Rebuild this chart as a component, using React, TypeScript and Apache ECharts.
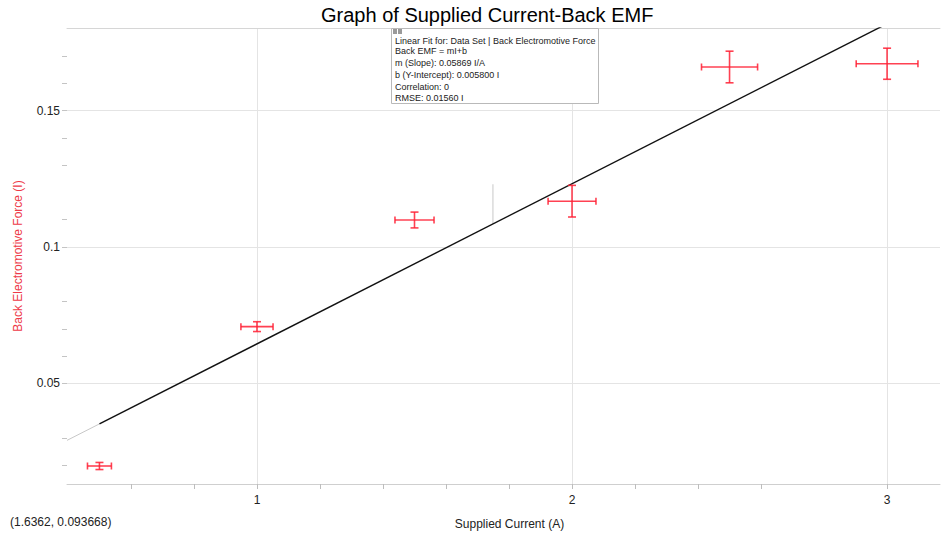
import React, { useEffect, useRef } from "react";
import * as echarts from "echarts";

// ---- data ----
const xValues = [0.5, 1.0, 1.5, 2.0, 2.5, 3.0];
const yValues = [0.0197, 0.0708, 0.1099, 0.1168, 0.166, 0.1672];
const xErrors = [0.038, 0.051, 0.062, 0.076, 0.089, 0.098];
const yErrors = [0.0013, 0.0018, 0.0029, 0.0058, 0.0058, 0.0057];

const fitSlope = 0.05869;
const fitIntercept = 0.0058;
const fitStart = 0.5;
const connectorX = 1.749;
const connectorTop = 0.123;

const xMin = 0.397;
const xMax = 3.168;
const yMin = 0.0131;
const yMax = 0.1803;

const xTickValues = [0.6, 0.8, 1.0, 1.2, 1.4, 1.6, 1.8, 2.0, 2.2, 2.4, 2.6, 3.0];
const xLabelValues = [1, 2, 3];
const yTickValues = [0.02, 0.03, 0.05, 0.06, 0.07, 0.08, 0.1, 0.11, 0.13, 0.14, 0.15, 0.16, 0.17];
const yLabelValues = [0.05, 0.1, 0.15];

const annotationLines = [
  "Linear Fit for: Data Set | Back Electromotive Force",
  "Back EMF = mI+b",
  "m (Slope): 0.05869 I/A",
  "b (Y-Intercept): 0.005800 I",
  "Correlation: 0",
  "RMSE: 0.01560 I",
];
const annotationY = [41, 51, 63, 75, 87, 98];
const cursorText = "(1.6362, 0.093668)";

const fit = (x: number) => fitSlope * x + fitIntercept;

export default function App() {
  const ref = useRef<HTMLDivElement>(null);

  useEffect(() => {
    document.body.style.margin = "0";
    if (!ref.current) return;
    const chart = echarts.init(ref.current, undefined, { renderer: "svg" });
    const red = "rgba(255,32,52,0.85)";
    const font = "'Liberation Sans', Arial, sans-serif";

    const errData = xValues.map((x, i) => [x, yValues[i], xErrors[i], yErrors[i]]);

    const gridMarks = [
      ...xLabelValues.map((v) => ({ xAxis: v })),
      ...yLabelValues.map((v) => ({ yAxis: v })),
    ];

    chart.setOption({
      animation: false,
      textStyle: { fontFamily: font },
      title: {
        text: "Graph of Supplied Current-Back EMF",
        left: 321,
        top: 5,
        padding: 0,
        textStyle: { fontSize: 20, fontWeight: "normal", color: "#000", fontFamily: font },
      },
      grid: { left: 67, right: 3, top: 28, bottom: 49, containLabel: false },
      xAxis: [
        {
          type: "value",
          min: xMin,
          max: xMax,
          name: "Supplied Current (A)",
          nameLocation: "middle",
          nameGap: 34,
          nameTextStyle: { fontSize: 12, color: "#222", padding: [0, 0, 0, 12] },
          axisLine: { show: true, lineStyle: { color: "#cfcfcf", width: 1 } },
          axisTick: { show: true, length: 5, lineStyle: { color: "#bdbdbd" }, customValues: xTickValues },
          axisLabel: { fontSize: 12, color: "#222", margin: 10, customValues: xLabelValues },
          splitLine: { show: false },
        },
        {
          type: "value",
          position: "top",
          min: xMin,
          max: xMax,
          axisLine: { show: true, lineStyle: { color: "#d6d6d6", width: 1 } },
          axisTick: { show: false },
          axisLabel: { show: false },
          splitLine: { show: false },
        },
      ],
      yAxis: {
        type: "value",
        min: yMin,
        max: yMax,
        name: "Back Electromotive Force (I)",
        nameLocation: "middle",
        nameGap: 43,
        nameTextStyle: { fontSize: 12, color: "#ee3a48" },
        axisLine: { show: false },
        axisTick: { show: true, length: 5, lineStyle: { color: "#c4c4c4" }, customValues: yTickValues },
        axisLabel: { fontSize: 12, color: "#222", margin: 7, customValues: yLabelValues },
        splitLine: { show: false },
      },
      series: [
        {
          type: "line",
          z: 1,
          showSymbol: false,
          silent: true,
          data: [
            [xMin, fit(xMin)],
            [fitStart, fit(fitStart)],
          ],
          lineStyle: { color: "#c8c8c8", width: 1 },
          markLine: {
            z: 0,
            silent: true,
            symbol: "none",
            label: { show: false },
            lineStyle: { color: "#e4e4e4", width: 1, type: "solid" },
            data: gridMarks,
          },
        },
        {
          type: "line",
          z: 6,
          showSymbol: false,
          silent: true,
          data: [
            [connectorX, fit(connectorX)],
            [connectorX, connectorTop],
          ],
          lineStyle: { color: "#c8c8c8", width: 1 },
        },
        {
          type: "line",
          z: 7,
          showSymbol: false,
          silent: true,
          clip: true,
          data: [
            [fitStart, fit(fitStart)],
            [xMax, fit(xMax)],
          ],
          lineStyle: { color: "#111", width: 1.4 },
        },
        {
          type: "custom",
          z: 8,
          silent: true,
          data: errData,
          encode: { x: 0, y: 1 },
          renderItem: (params: any, api: any) => {
            const x = api.value(0);
            const y = api.value(1);
            const ex = api.value(2);
            const ey = api.value(3);
            const l = api.coord([x - ex, y]);
            const r = api.coord([x + ex, y]);
            const t = api.coord([x, y + ey]);
            const b = api.coord([x, y - ey]);
            const style = { stroke: red, lineWidth: 1.6 };
            const cap = 3.5;
            const mk = (x1: number, y1: number, x2: number, y2: number) => ({
              type: "line",
              shape: { x1, y1, x2, y2 },
              style,
            });
            return {
              type: "group",
              children: [
                mk(l[0], l[1], r[0], r[1]),
                mk(t[0], t[1], b[0], b[1]),
                mk(l[0], l[1] - cap, l[0], l[1] + cap),
                mk(r[0], r[1] - cap, r[0], r[1] + cap),
                mk(t[0] - 4, t[1], t[0] + 4, t[1]),
                mk(b[0] - 4, b[1], b[0] + 4, b[1]),
              ],
            };
          },
        },
      ],
      graphic: [
        {
          type: "rect",
          z: 100,
          shape: { x: 391.5, y: 28.5, width: 207, height: 75 },
          style: { fill: "#fff", stroke: "#b9b9b9", lineWidth: 1 },
        },
        {
          type: "rect",
          z: 101,
          shape: { x: 393, y: 29, width: 4, height: 5 },
          style: { fill: "#9a9a9a" },
        },
        {
          type: "rect",
          z: 101,
          shape: { x: 398, y: 29, width: 4, height: 5 },
          style: { fill: "#9a9a9a" },
        },
        ...annotationLines.map((txt, i) => ({
          type: "text",
          z: 101,
          x: 395,
          y: annotationY[i],
          style: {
            text: txt,
            fontSize: 9,
            fill: "#222",
            fontFamily: font,
            verticalAlign: "middle",
          },
        })),
        {
          type: "text",
          x: 10,
          y: 522,
          style: {
            text: cursorText,
            fontSize: 12,
            fill: "#222",
            fontFamily: font,
            verticalAlign: "middle",
          },
        },
      ],
    });

    return () => chart.dispose();
  }, []);

  return <div ref={ref} style={{ width: 943, height: 535 }} />;
}
